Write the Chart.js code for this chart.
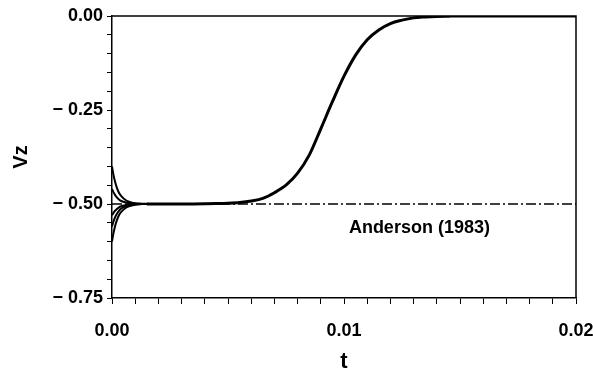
<!DOCTYPE html>
<html>
<head>
<meta charset="utf-8">
<script src="https://cdn.jsdelivr.net/npm/chart.js@4.4.1/dist/chart.umd.min.js"></script>
<style>
  body { margin: 0; background: #fff; }
  #wrap { width: 593px; height: 375px; }
</style>
</head>
<body>
<div id="wrap"><canvas id="myChart" width="593" height="375"></canvas></div>
<script>
// start-up transients, all runs converge on -0.5
const tStart = [0, 0.00005, 0.0001, 0.0002, 0.0003, 0.0004, 0.0006, 0.0008, 0.001, 0.0013, 0.0016];
const vzRunA = [-0.40, -0.418, -0.433, -0.455, -0.470, -0.479, -0.490, -0.495, -0.498, -0.499, -0.500];
const vzRunB = [-0.46, -0.467, -0.473, -0.482, -0.488, -0.492, -0.496, -0.498, -0.499, -0.500, -0.500];
const vzRunC = [-0.53, -0.525, -0.520, -0.514, -0.509, -0.506, -0.503, -0.501, -0.500, -0.500, -0.500];
const vzRunD = [-0.56, -0.549, -0.540, -0.527, -0.518, -0.512, -0.506, -0.503, -0.501, -0.500, -0.500];
const vzRunE = [-0.60, -0.582, -0.567, -0.545, -0.530, -0.521, -0.510, -0.505, -0.502, -0.500, -0.500];

// main curve after the transients
const tMain = [0.0015, 0.002, 0.0025, 0.003, 0.0035, 0.004, 0.0045, 0.005, 0.0055, 0.006, 0.0065, 0.007,
               0.0075, 0.008, 0.0085, 0.009, 0.0095, 0.010, 0.0105, 0.011, 0.0115, 0.012, 0.0125,
               0.013, 0.0135, 0.014, 0.0145, 0.015, 0.016, 0.018, 0.020];
const vzMain = [-0.500, -0.500, -0.500, -0.500, -0.4998, -0.4995, -0.499, -0.498, -0.496, -0.492, -0.485, -0.470,
                -0.450, -0.418, -0.370, -0.300, -0.228, -0.160, -0.104, -0.063, -0.037, -0.020, -0.011,
                -0.005, -0.0025, -0.001, -0.0004, 0.000, 0.000, 0.000, 0.000];

// Anderson (1983) reference value
const tRef = [0, 0.02];
const vzRef = [-0.5, -0.5];
const refLabel = 'Anderson (1983)';

const xTickLabels = ['0.00', '0.01', '0.02'];
const yTickLabels = ['0.00', '\u2212 0.25', '\u2212 0.50', '\u2212 0.75'];

function pts(xs, ys) {
    return xs.map((x, i) => ({ x: x, y: ys[i] }));
}

function runSet(ys) {
    return {
        data: pts(tStart, ys),
        borderColor: '#000',
        borderWidth: 2,
        pointRadius: 0,
        cubicInterpolationMode: 'monotone'
    };
}

const fontFamily = '"Liberation Sans", Arial, sans-serif';

// frame around the plot and the reference label
const framePlugin = {
    id: 'frame',
    afterDraw(chart) {
        const { ctx, chartArea, scales } = chart;
        ctx.save();
        ctx.strokeStyle = '#000';
        ctx.lineWidth = 1.5;
        ctx.beginPath();
        ctx.moveTo(chartArea.left, chartArea.top);
        ctx.lineTo(chartArea.right, chartArea.top);
        ctx.lineTo(chartArea.right, chartArea.bottom);
        ctx.stroke();
        ctx.fillStyle = '#000';
        ctx.font = 'bold 18px ' + fontFamily;
        ctx.textAlign = 'center';
        ctx.textBaseline = 'middle';
        ctx.fillText(refLabel, scales.x.getPixelForValue(0.01325), scales.y.getPixelForValue(-0.565));
        ctx.restore();
    }
};

function isMultiple(v, step) {
    return Math.abs(v / step - Math.round(v / step)) < 1e-6;
}

const ctx = document.getElementById('myChart').getContext('2d');
const chart = new Chart(ctx, {
    type: 'line',
    data: {
        datasets: [
            {
                data: pts(tRef, vzRef),
                borderColor: '#000',
                borderWidth: 1.5,
                borderDash: [10, 3, 2, 3],
                pointRadius: 0
            },
            runSet(vzRunA),
            runSet(vzRunB),
            runSet(vzRunC),
            runSet(vzRunD),
            runSet(vzRunE),
            {
                data: pts(tMain, vzMain),
                borderColor: '#000',
                borderWidth: 3,
                pointRadius: 0,
                cubicInterpolationMode: 'monotone'
            }
        ]
    },
    options: {
        responsive: false,
        animation: false,
        layout: { padding: { top: 16, right: 17, left: 0, bottom: 0 } },
        plugins: { legend: { display: false }, tooltip: { enabled: false } },
        scales: {
            x: {
                type: 'linear',
                min: 0,
                max: 0.02,
                border: { color: '#000', width: 1.5 },
                grid: { drawOnChartArea: false, color: '#000', tickLength: 6, tickWidth: 1 },
                ticks: {
                    stepSize: 0.001,
                    autoSkip: false,
                    maxTicksLimit: 100,
                    maxRotation: 0,
                    padding: 16,
                    color: '#000',
                    font: { family: fontFamily, size: 18, weight: 'bold' },
                    callback: (v) => isMultiple(v, 0.01) ? xTickLabels[Math.round(v / 0.01)] : ''
                },
                title: {
                    display: true,
                    text: 't',
                    color: '#000',
                    font: { family: fontFamily, size: 22, weight: 'bold' },
                    padding: { top: 0, bottom: 0 }
                },
                afterFit(scale) {
                    scale.height = 77;
                    scale.paddingLeft = 0;
                    scale.paddingRight = 0;
                }
            },
            y: {
                type: 'linear',
                min: -0.75,
                max: 0,
                border: { color: '#000', width: 1.5 },
                grid: { drawOnChartArea: false, color: '#000', tickLength: 5, tickWidth: 1 },
                ticks: {
                    stepSize: 0.05,
                    autoSkip: false,
                    maxTicksLimit: 100,
                    padding: 4,
                    color: '#000',
                    font: { family: fontFamily, size: 18, weight: 'bold' },
                    callback: (v) => isMultiple(v, 0.25) ? yTickLabels[Math.round(-v / 0.25)] : ''
                },
                title: {
                    display: true,
                    text: 'Vz',
                    color: '#000',
                    font: { family: fontFamily, size: 20, weight: 'bold' },
                    padding: { top: 9, bottom: 0 }
                },
                afterFit(scale) {
                    scale.width = 112;
                    scale.paddingTop = 0;
                    scale.paddingBottom = 0;
                }
            }
        }
    },
    plugins: [framePlugin]
});
</script>
</body>
</html>
